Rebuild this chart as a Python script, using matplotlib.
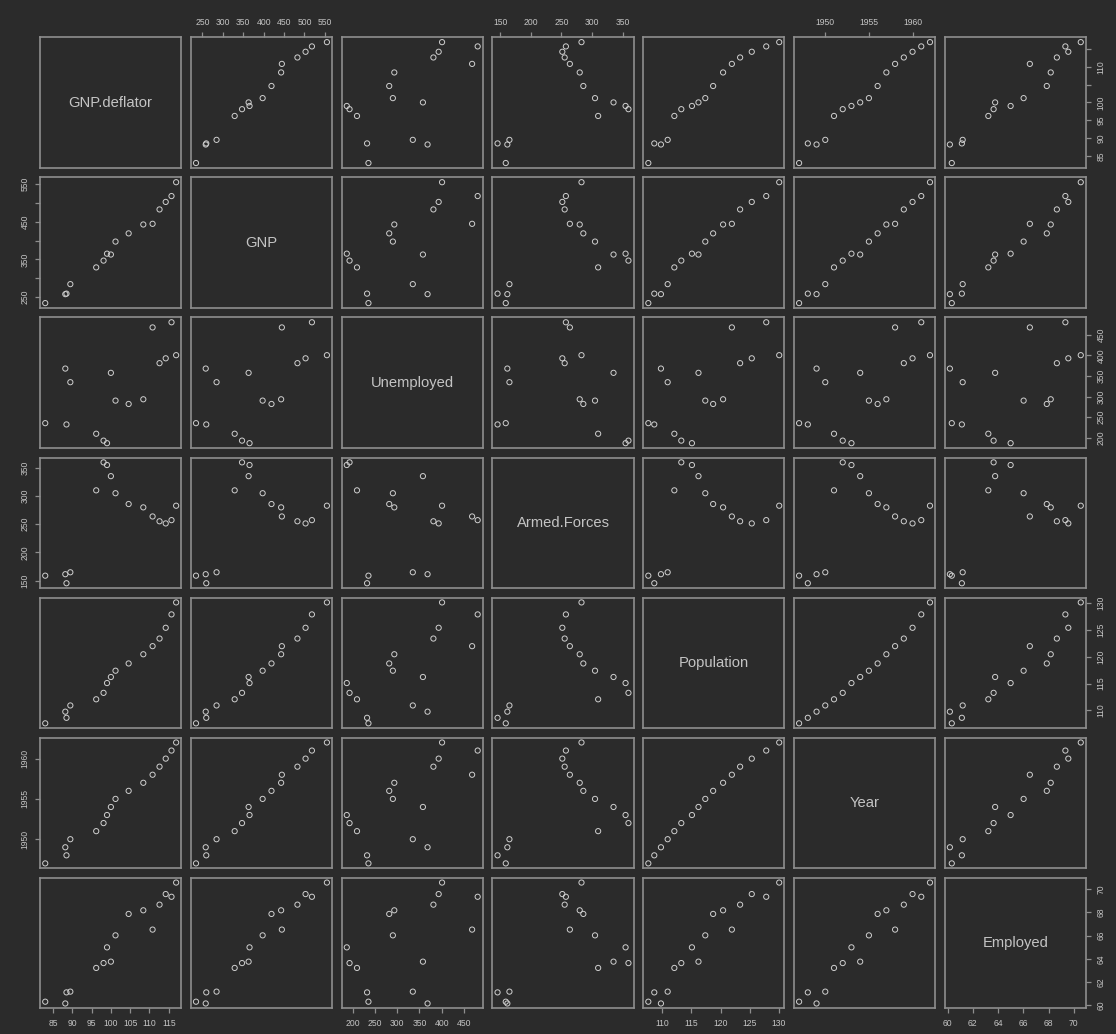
"""Scatterplot matrix of the Longley macroeconomic data, dark theme."""

import matplotlib

matplotlib.use("Agg")
import matplotlib.pyplot as plt

names = ["GNP.deflator", "GNP", "Unemployed", "Armed.Forces",
         "Population", "Year", "Employed"]

gnp_deflator = [83.0, 88.5, 88.2, 89.5, 96.2, 98.1, 99.0, 100.0,
                101.2, 104.6, 108.4, 110.8, 112.6, 114.2, 115.7, 116.9]
gnp = [234.289, 259.426, 258.054, 284.599, 328.975, 346.999, 365.385, 363.112,
       397.469, 419.180, 442.769, 444.546, 482.704, 502.601, 518.173, 554.894]
unemployed = [235.6, 232.5, 368.2, 335.1, 209.9, 193.2, 187.0, 357.8,
              290.4, 282.2, 293.6, 468.1, 381.3, 393.1, 480.6, 400.7]
armed_forces = [159.0, 145.6, 161.6, 165.0, 309.9, 359.4, 354.7, 335.0,
                304.8, 285.7, 279.8, 263.7, 255.2, 251.4, 257.2, 282.7]
population = [107.608, 108.632, 109.773, 110.929, 112.075, 113.270, 115.094, 116.219,
              117.388, 118.734, 120.445, 121.950, 123.366, 125.368, 127.852, 130.081]
year = [1947, 1948, 1949, 1950, 1951, 1952, 1953, 1954,
        1955, 1956, 1957, 1958, 1959, 1960, 1961, 1962]
employed = [60.323, 61.122, 60.171, 61.187, 63.221, 63.639, 64.989, 63.761,
            66.019, 67.857, 68.169, 66.513, 68.655, 69.564, 69.331, 70.551]

columns = [gnp_deflator, gnp, unemployed, armed_forces, population, year, employed]

ticks = [
    [85, 90, 95, 100, 105, 110, 115],
    [250, 300, 350, 400, 450, 500, 550],
    [200, 250, 300, 350, 400, 450],
    [150, 200, 250, 300, 350],
    [110, 115, 120, 125, 130],
    [1950, 1955, 1960],
    [60, 62, 64, 66, 68, 70],
]
# vertical axes where R dropped overlapping labels
y_labels = {
    0: ["85", "90", "95", "100", "", "110", ""],
    1: ["250", "", "350", "", "450", "", "550"],
}

BG = "#2b2b2b"
FRAME = "#8e8e8e"
POINT = "#cfcfcf"
TEXT = "#c4c4c4"

W, H = 1116, 1034
left, right = 40.0, 1086.0
top, bottom = 37.3, 1008.3
gap_x, gap_y = 9.4, 9.5
n = len(names)
pw = (right - left - (n - 1) * gap_x) / n
ph = (bottom - top - (n - 1) * gap_y) / n


def lims(v):
    lo, hi = min(v), max(v)
    pad = 0.04 * (hi - lo)
    return lo - pad, hi + pad


fig = plt.figure(figsize=(W / 100, H / 100), dpi=100, facecolor=BG)

for i in range(n):          # row -> y variable
    for j in range(n):      # column -> x variable
        x0 = left + j * (pw + gap_x)
        y0 = top + i * (ph + gap_y)
        ax = fig.add_axes([x0 / W, 1 - (y0 + ph) / H, pw / W, ph / H])
        ax.set_facecolor(BG)
        for s in ax.spines.values():
            s.set_color(FRAME)
            s.set_linewidth(1.2)
        ax.set_xlim(lims(columns[j]))
        ax.set_ylim(lims(columns[i]))
        ax.tick_params(colors=FRAME, labelcolor=TEXT, labelsize=6.2, length=3.5,
                       width=0.9, pad=4)
        ax.set_xticks([])
        ax.set_yticks([])

        if i == j:
            ax.text(0.5, 0.5, names[i], transform=ax.transAxes, ha="center",
                    va="center", color=TEXT, fontsize=10.6,
                    family="Liberation Sans")
        else:
            ax.scatter(columns[j], columns[i], s=14, facecolors="none",
                       edgecolors=POINT, linewidths=0.7)

        # R pairs(): alternate axis sides
        if i == 0 and j % 2 == 1:
            ax.set_xticks(ticks[j])
            ax.xaxis.tick_top()
        if i == n - 1 and j % 2 == 0:
            ax.set_xticks(ticks[j])
            ax.xaxis.tick_bottom()
        side = None
        if j == 0 and i % 2 == 1:
            side = "left"
        if j == n - 1 and i % 2 == 0:
            side = "right"
        if side:
            ax.set_yticks(ticks[i])
            if i in y_labels:
                ax.set_yticklabels(y_labels[i])
            if side == "left":
                ax.yaxis.tick_left()
            else:
                ax.yaxis.tick_right()
            plt.setp(ax.get_yticklabels(), rotation=90, va="center")
        for lab in ax.get_xticklabels() + ax.get_yticklabels():
            lab.set_family("Liberation Sans")

fig.savefig("out.png", dpi=100, facecolor=BG)
